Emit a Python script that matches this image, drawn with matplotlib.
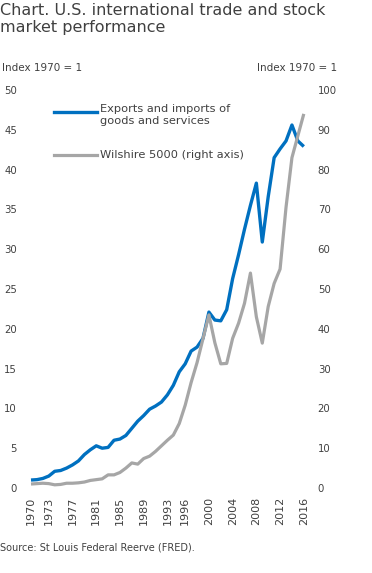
import matplotlib
matplotlib.use("Agg")
import matplotlib.pyplot as plt
from matplotlib.lines import Line2D

plt.rcParams['font.family'] = ['DejaVu Sans']

years = list(range(1970, 2017))
trade = [1.0, 1.05, 1.2, 1.5, 2.1, 2.2, 2.5, 2.9, 3.4, 4.2,
         4.8, 5.3, 5.0, 5.1, 6.0, 6.15, 6.6, 7.5, 8.4, 9.1,
         9.9, 10.3, 10.8, 11.7, 12.9, 14.6, 15.6, 17.2, 17.7, 18.8,
         22.1, 21.1, 21.0, 22.4, 26.3, 29.3, 32.5, 35.5, 38.3, 30.9,
         36.6, 41.5, 42.6, 43.6, 45.6, 43.6, 42.9]
wilshire = [1.0, 1.1, 1.2, 1.1, 0.8, 0.9, 1.2, 1.2, 1.3, 1.5,
            1.9, 2.1, 2.3, 3.3, 3.3, 3.9, 5.0, 6.3, 6.0, 7.4,
            8.0, 9.2, 10.6, 12.0, 13.3, 16.2, 20.8, 26.5, 31.5, 37.5,
            43.5, 36.5, 31.2, 31.3, 37.6, 41.4, 46.4, 54.0, 43.0, 36.4,
            45.6, 51.4, 55.0, 70.5, 83.0, 88.5, 94.0]
xticks = [1970, 1973, 1977, 1981, 1985, 1989, 1993, 1996, 2000, 2004, 2008, 2012, 2016]
left_ticks = [0, 5, 10, 15, 20, 25, 30, 35, 40, 45, 50]
right_ticks = [0, 10, 20, 30, 40, 50, 60, 70, 80, 90, 100]

title = "Chart. U.S. international trade and stock\nmarket performance"
trade_label = "Exports and imports of\ngoods and services"
wil_label = "Wilshire 5000 (right axis)"
source = "Source: St Louis Federal Reerve (FRED)."

W, H = 372, 573
fig = plt.figure(figsize=(W / 100, H / 100), dpi=100)
txt = '#404040'
blue = '#0070C0'
gray = '#A6A6A6'

ax = fig.add_axes([31 / W, (H - 488) / H, 272.8 / W, 398 / H])
ax2 = ax.twinx()

ax.plot(years, trade, color=blue, lw=2.4, solid_capstyle='butt', clip_on=False)
ax2.plot(years, wilshire, color=gray, lw=2.3, solid_capstyle='butt', clip_on=False)

ax.set_xlim(1970, 2016)
ax.set_ylim(0, 50)
ax2.set_ylim(0, 100)
ax.set_xticks(xticks)
ax.set_xticklabels([str(y) for y in xticks], rotation=90, fontsize=8, color=txt)
ax.set_yticks(left_ticks)
ax.set_yticklabels([str(v) for v in left_ticks], fontsize=7.3, color=txt)
ax2.set_yticks(right_ticks)
ax2.set_yticklabels([str(v) for v in right_ticks], fontsize=7.3, color=txt)
ax.tick_params(axis='x', length=0, pad=6.5)
ax.tick_params(axis='y', length=0, pad=10)
ax2.tick_params(axis='y', length=0, pad=10)
for a in (ax, ax2):
    for s in a.spines.values():
        s.set_visible(False)
    a.patch.set_visible(False)

fig.text(0 / W, 1 - 3 / H, title, fontsize=11.5, color=txt, ha='left', va='top', linespacing=1.2)
fig.text(2 / W, 1 - 68 / H, "Index 1970 = 1", fontsize=7.5, color=txt, ha='left', va='center')
fig.text(337 / W, 1 - 68 / H, "Index 1970 = 1", fontsize=7.5, color=txt, ha='right', va='center')
fig.text(0 / W, 1 - 547 / H, source, fontsize=7, color=txt, ha='left', va='center')

# legend
fig.add_artist(Line2D([54 / W, 97 / W], [1 - 112 / H, 1 - 112 / H], color=blue, lw=2.4))
fig.add_artist(Line2D([54 / W, 97 / W], [1 - 155 / H, 1 - 155 / H], color=gray, lw=2.3))
fig.text(100 / W, 1 - 104.5 / H, trade_label, fontsize=8.2, color=txt, ha='left', va='top', linespacing=1.2)
fig.text(100 / W, 1 - 155 / H, wil_label, fontsize=8.2, color=txt, ha='left', va='center')

fig.savefig('out.png', dpi=100)
